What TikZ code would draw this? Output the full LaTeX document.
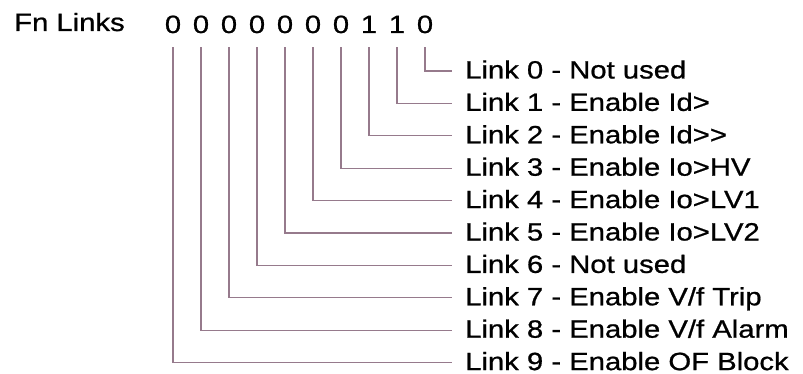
\documentclass[tikz,border=0pt]{standalone}
\usepackage{fontspec}
\setmainfont{Liberation Sans}[FakeStretch=1.17, FakeBold=0.8]
\usepackage{tikz}
\usetikzlibrary{positioning}
\definecolor{linkgray}{RGB}{150,122,140}

\begin{document}
\begin{tikzpicture}[x=1pt, y=-1pt,
        every node/.style={font=\fontsize{25pt}{30pt}\selectfont, color=black},
        bit/.style={anchor=base, inner xsep=0pt, inner ysep=14pt, text depth=0pt},
        linktext/.style={anchor=west, inner xsep=13pt, inner ysep=0pt, text height=15pt, text depth=0pt},
        linkline/.style={draw=linkgray, line width=1.2pt}]
      \useasboundingbox (0,0) rectangle (803,374);
      \node (title) [anchor=base west, inner sep=0pt] at (14,31) {Fn Links};
      \foreach \b/\v [count=\n from 0] in {9/0,8/0,7/0,6/0,5/0,4/0,3/0,2/1,1/1,0/0}
        \node (bit\b) [bit] at (173+28*\n,33) {\v};
      \foreach \k/\t in {0/{Not used}, 1/{Enable Id>}, 2/{Enable Id{>}{>}},
          3/{Enable Io>HV}, 4/{Enable Io>LV1}, 5/{Enable Io>LV2}, 6/{Not used},
          7/{Enable V/f Trip}, 8/{Enable V/f Alarm}, 9/{Enable OF Block}}
        \node (link\k) [linktext] at (452,71+32.4*\k) {Link \k{} - \t};
      \foreach \k in {0,...,9}
        \draw[linkline] (bit\k.south) |- (link\k.west);
\end{tikzpicture}
\end{document}
